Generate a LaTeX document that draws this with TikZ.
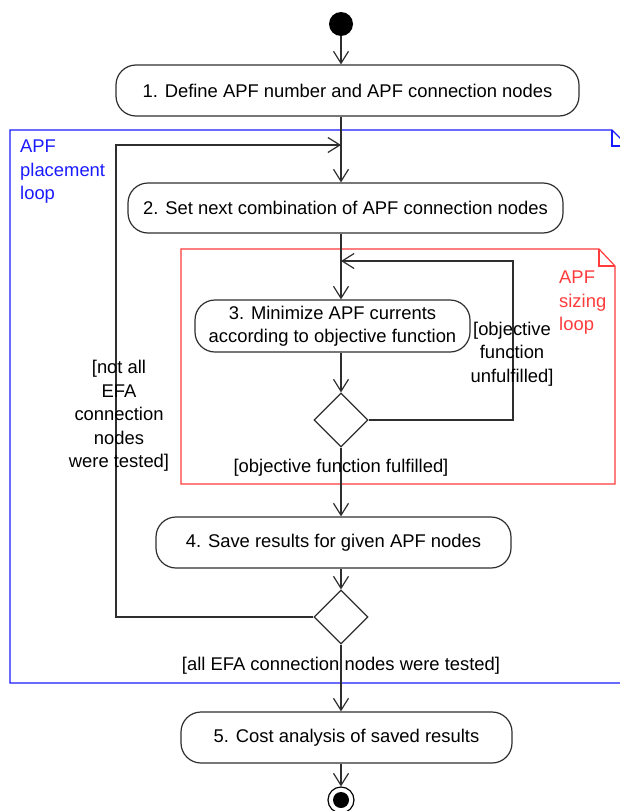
\documentclass[tikz,border=0pt]{standalone}
\usepackage{fontspec}
\setmainfont{Liberation Sans}
\usetikzlibrary{positioning, arrows.meta, shapes.geometric}
\definecolor{loopblue}{HTML}{1A1AFF}
\definecolor{loopred}{HTML}{FF3B3B}
\definecolor{umlgray}{HTML}{2E2E2E}

\begin{document}
\begin{tikzpicture}[
  x=1pt, y=-1pt,
  >={Straight Barb[length=12pt, width=15pt]},
  font=\fontsize{18.4}{23.5}\selectfont,
  action/.style={
    draw=umlgray, rounded corners=20pt,
    minimum height=51pt, inner sep=2pt,
    align=center, line width=1.2pt
  },
  decision/.style={draw=umlgray, diamond, aspect=1, minimum size=54pt,
    inner sep=0pt, line width=1.2pt},
  initnode/.style={circle, fill=black, minimum size=24pt, inner sep=0pt},
  finalnode/.style={circle, draw=black, fill=white, line width=1.2pt,
    minimum size=26pt, inner sep=0pt,
    path picture={\fill[black] (path picture bounding box.center) circle (8pt);}},
  guard/.style={align=center, text=black, inner sep=0pt},
  looplabel/.style={align=left, anchor=north west, inner sep=0pt},
  frame/.style={line width=1.2pt},
  arr/.style={->, line width=1.2pt, umlgray}
]
\useasboundingbox (0,0) rectangle (619,811);

% Loop frames
\draw[frame, loopblue] (10,130) -- (612,130) -- (628,146) -- (628,683)
  -- (10,683) -- cycle;
\draw[frame, loopblue] (612,130) |- (628,146);
\node[looplabel, text=loopblue] (bluelbl) at (20,140) {APF\\placement\\loop};

\draw[frame, loopred] (181,249) -- (599,249) -- (615,266) -- (615,484)
  -- (181,484) -- cycle;
\draw[frame, loopred] (599,249) |- (615,266);
\node[looplabel, text=loopred] (redlbl) at (559,271) {APF\\sizing\\loop};

% Actions
\node[initnode] (start) at (341,24) {};
\node[action, minimum width=463pt] (act1) at (347.5,90.5)
  {1. Define APF number and APF connection nodes};
\node[action, minimum width=435pt, minimum height=50pt] (act2) at (345.5,208)
  {2. Set next combination of APF connection nodes};
\node[action, minimum width=275pt, minimum height=52pt] (act3) at (332.5,326)
  {3. Minimize APF currents\\according to objective function};
\node[decision] (dec1) at (341,420) {};
\node[action, minimum width=355pt] (act4) at (333.5,542.5)
  {4. Save results for given APF nodes};
\node[decision] (dec2) at (341,617) {};
\node[action, minimum width=331pt] (act5) at (346.5,737.5)
  {5. Cost analysis of saved results};
\node[finalnode] (stop) at (341,800) {};

% Merge points and loop corners
\coordinate (merge1) at (341,145);
\coordinate (merge2) at (341,261);
\coordinate (backL) at (116,145);
\coordinate (backR) at (513,261);

% Flow
\draw[arr] (start) -- (start |- act1.north);
\draw[arr] (start |- act1.south) -- (start |- act2.north);
\draw[arr] (start |- act2.south) -- (start |- act3.north);
\draw[arr] (start |- act3.south) -- (dec1.north);
\draw[arr] (dec1.south) -- (start |- act4.north);
\draw[arr] (start |- act4.south) -- (dec2.north);
\draw[arr] (dec2.south) -- (start |- act5.north);
\draw[arr] (start |- act5.south) -- (stop.north);

% Loops back
\draw[arr] (dec1.east) -| (backR) -- (merge2);
\draw[arr] (dec2.west) -| (backL) -- (merge1);

% Guards
\node[guard] (g1) at (512,354) {[objective\\function\\unfulfilled]};
\node[guard] (g2) at (341,468) {[objective function fulfilled]};
\node[guard] (g3) at (119,416) {[not all\\EFA\\connection\\nodes\\were tested]};
\node[guard] (g4) at (341,666) {[all EFA connection nodes were tested]};

\end{tikzpicture}
\end{document}
